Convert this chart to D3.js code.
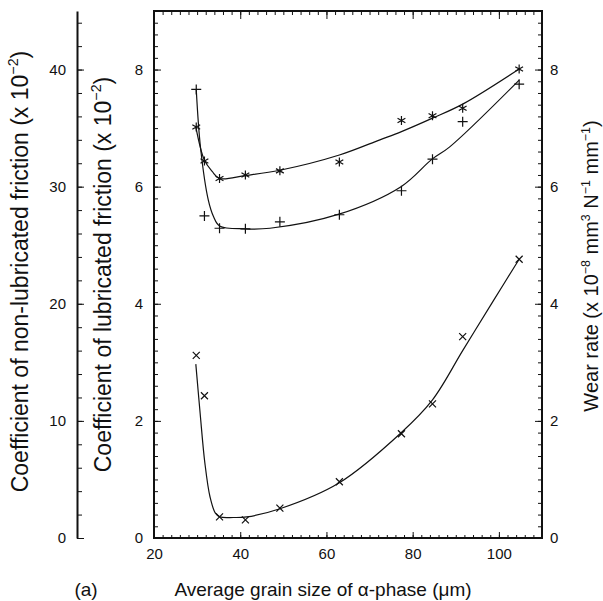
<!DOCTYPE html>
<html>
<head>
<meta charset="utf-8">
<script src="https://cdn.jsdelivr.net/npm/d3@7"></script>
<style>
  body { margin: 0; background: #fff; }
  text { font-family: "Liberation Sans", Arial, sans-serif; fill: #111; }
</style>
</head>
<body>
<div id="chart"></div>
<script>
// grain size of the alpha phase (um) for each specimen
const grainSize = [29.8, 31.7, 35.2, 41.2, 49.2, 63.0, 77.4, 84.6, 91.6, 104.7];
// coefficient of non-lubricated friction (x 10^-2), asterisks
const nonLubFriction = [35.1, 32.2, 30.7, 31.0, 31.35, 32.1, 35.65, 36.05, 36.7, 40.05];
// coefficient of lubricated friction (x 10^-2), plus signs
const lubFriction = [7.66, 5.50, 5.29, 5.28, 5.40, 5.52, 5.93, 6.47, 7.11, 7.75];
// wear rate (x 10^-8 mm3 N-1 mm-1), crosses
const wearRate = [3.12, 2.43, 0.36, 0.31, 0.51, 0.96, 1.78, 2.29, 3.44, 4.76];

// fitted curves
const nonLubFitX = [29.7, 31.7, 33.5, 35.2, 41.2, 49.2, 63.0, 72.4, 77.4, 84.6, 91.6, 104.7];
const nonLubFitY = [35.1, 32.25, 31.3, 30.7, 30.95, 31.4, 32.7, 34.0, 34.7, 35.85, 37.05, 40.05];
const lubFitX = [29.8, 30.8, 32.6, 33.8, 35.2, 41.1, 46.9, 62.9, 77.3, 84.5, 88.6, 104.7];
const lubFitY = [7.66, 6.66, 5.77, 5.49, 5.33, 5.28, 5.29, 5.53, 6.0, 6.47, 6.68, 7.82];
const wearFitX = [29.7, 30.7, 31.8, 33.0, 34.2, 35.3, 38.4, 41.5, 49.2, 62.9, 77.2, 84.6, 91.6, 98.7, 104.7];
const wearFitY = [2.97, 2.13, 1.28, 0.70, 0.43, 0.36, 0.35, 0.36, 0.50, 0.94, 1.79, 2.36, 3.20, 4.05, 4.76];

const xTicks = [20, 40, 60, 80, 100];
const lubTicks = [0, 2, 4, 6, 8];
const nonLubTicks = [0, 10, 20, 30, 40];
const wearTicks = [0, 2, 4, 6, 8];

function init() {
  const width = 603, height = 601;
  const left = 154, right = 542, top = 11, bottom = 538;

  const svg = d3.select("#chart").append("svg")
    .attr("width", width)
    .attr("height", height);

  const x = d3.scaleLinear().domain([20, 110]).range([left, right]);
  const yLub = d3.scaleLinear().domain([0, 9]).range([bottom, top]);
  const yNon = d3.scaleLinear().domain([0, 45]).range([bottom, top]);
  const yWear = d3.scaleLinear().domain([0, 9]).range([bottom, top]);

  function styleAxis(g) {
    g.selectAll(".tick line").attr("stroke", "#111").attr("stroke-width", 1);
    g.selectAll(".tick text").style("font-size", "15px").attr("fill", "#111");
    g.select(".domain").attr("stroke", "#111");
  }

  // outer left axis: non-lubricated friction
  const outerX = 77;
  svg.append("g")
    .attr("transform", `translate(${outerX},0)`)
    .call(d3.axisLeft(yNon).tickValues(d3.range(0, 45.1, 2)).tickSizeInner(-5).tickSizeOuter(0).tickFormat(""))
    .call(g => g.select(".domain").remove())
    .call(styleAxis);
  svg.append("g")
    .attr("transform", `translate(${outerX},0)`)
    .call(d3.axisLeft(yNon).tickValues(nonLubTicks).tickSizeInner(-7).tickSizeOuter(0).tickPadding(11))
    .call(styleAxis)
    .call(g => g.select(".domain").attr("stroke-width", 2));

  // inner left axis: lubricated friction
  svg.append("g")
    .attr("transform", `translate(${left},0)`)
    .call(d3.axisLeft(yLub).tickValues(d3.range(0, 9.01, 0.2)).tickSizeInner(-4).tickSizeOuter(0).tickFormat(""))
    .call(g => g.select(".domain").remove())
    .call(styleAxis);
  svg.append("g")
    .attr("transform", `translate(${left},0)`)
    .call(d3.axisLeft(yLub).tickValues(lubTicks).tickSizeInner(-7).tickSizeOuter(0).tickPadding(11))
    .call(g => g.select(".domain").remove())
    .call(styleAxis);

  // right axis: wear rate
  svg.append("g")
    .attr("transform", `translate(${right},0)`)
    .call(d3.axisRight(yWear).tickValues(d3.range(0, 9.01, 0.2)).tickSizeInner(-4).tickSizeOuter(0).tickFormat(""))
    .call(g => g.select(".domain").remove())
    .call(styleAxis);
  svg.append("g")
    .attr("transform", `translate(${right},0)`)
    .call(d3.axisRight(yWear).tickValues(wearTicks).tickSizeInner(-7).tickSizeOuter(0).tickPadding(8))
    .call(g => g.select(".domain").remove())
    .call(styleAxis);

  // bottom axis
  svg.append("g")
    .attr("transform", `translate(0,${bottom})`)
    .call(d3.axisBottom(x).tickValues(d3.range(20, 110.1, 2)).tickSizeInner(-3).tickSizeOuter(0).tickFormat(""))
    .call(g => g.select(".domain").remove())
    .call(styleAxis);
  svg.append("g")
    .attr("transform", `translate(0,${bottom})`)
    .call(d3.axisBottom(x).tickValues(xTicks).tickSizeInner(-6).tickSizeOuter(0).tickPadding(10))
    .call(g => g.select(".domain").remove())
    .call(styleAxis);

  // top axis, ticks only
  svg.append("g")
    .attr("transform", `translate(0,${top})`)
    .call(d3.axisTop(x).tickValues(d3.range(20, 110.1, 2)).tickSizeInner(-4).tickSizeOuter(0).tickFormat(""))
    .call(g => g.select(".domain").remove())
    .call(styleAxis);
  svg.append("g")
    .attr("transform", `translate(0,${top})`)
    .call(d3.axisTop(x).tickValues(xTicks).tickSizeInner(-8).tickSizeOuter(0).tickFormat(""))
    .call(g => g.select(".domain").remove())
    .call(styleAxis);

  // plot frame
  svg.append("rect")
    .attr("x", left).attr("y", top)
    .attr("width", right - left).attr("height", bottom - top)
    .attr("fill", "none").attr("stroke", "#111").attr("stroke-width", 2);

  // fitted curves
  const fits = [
    { xs: nonLubFitX, ys: nonLubFitY, y: yNon },
    { xs: lubFitX, ys: lubFitY, y: yLub },
    { xs: wearFitX, ys: wearFitY, y: yWear }
  ];
  fits.forEach(f => {
    const line = d3.line()
      .x(d => x(d[0]))
      .y(d => f.y(d[1]))
      .curve(d3.curveCatmullRom.alpha(0.5));
    svg.append("path")
      .datum(d3.zip(f.xs, f.ys))
      .attr("d", line)
      .attr("fill", "none")
      .attr("stroke", "#111")
      .attr("stroke-width", 1.2);
  });

  // marker shapes
  const plus = s => `M${-s},0H${s}M0,${-s}V${s}`;
  const cross = s => `M${-s},${-s}L${s},${s}M${-s},${s}L${s},${-s}`;
  const star = s => `M0,${-s}V${s}M${-s * 0.87},${-s * 0.5}L${s * 0.87},${s * 0.5}M${-s * 0.87},${s * 0.5}L${s * 0.87},${-s * 0.5}`;

  const series = [
    { vals: nonLubFriction, y: yNon, shape: star(4.5) },
    { vals: lubFriction, y: yLub, shape: plus(5) },
    { vals: wearRate, y: yWear, shape: cross(3.5) }
  ];
  series.forEach(s => {
    svg.append("g")
      .selectAll("path")
      .data(d3.zip(grainSize, s.vals))
      .join("path")
      .attr("transform", d => `translate(${x(d[0])},${s.y(d[1])})`)
      .attr("d", s.shape)
      .attr("fill", "none")
      .attr("stroke", "#111")
      .attr("stroke-width", 1.2);
  });

  // axis titles (rotated, with superscripts)
  const mid = (top + bottom) / 2;
  function yTitle(cx, cy, main, sup, rest, size) {
    const shift = size * 0.42;
    const t = svg.append("text")
      .attr("transform", `translate(${cx},${cy}) rotate(-90)`)
      .attr("text-anchor", "middle")
      .attr("dy", size * 0.35)
      .style("font-size", size + "px");
    t.append("tspan").text(main);
    sup.forEach((p, i) => {
      t.append("tspan").attr("dy", -shift).style("font-size", (size * 0.62) + "px").text(p);
      t.append("tspan").attr("dy", shift).text(rest[i]);
    });
    return t;
  }

  yTitle(20, mid - 3, "Coefficient of non-lubricated friction (x 10", ["\u22122"], [")"], 23);
  yTitle(103, mid, "Coefficient of lubricated friction (x 10", ["\u22122"], [")"], 23);
  yTitle(591, 266, "Wear rate (x 10", ["\u22128", "3", "\u22121", "\u22121"], [" mm", " N", " mm", ")"], 20);

  svg.append("text")
    .attr("x", 323).attr("y", 596)
    .attr("text-anchor", "middle")
    .style("font-size", "19px")
    .text("Average grain size of \u03b1-phase (\u03bcm)");

  svg.append("text")
    .attr("x", 86).attr("y", 596)
    .attr("text-anchor", "middle")
    .style("font-size", "19px")
    .text("(a)");
}

window.onload = init;
</script>
</body>
</html>
